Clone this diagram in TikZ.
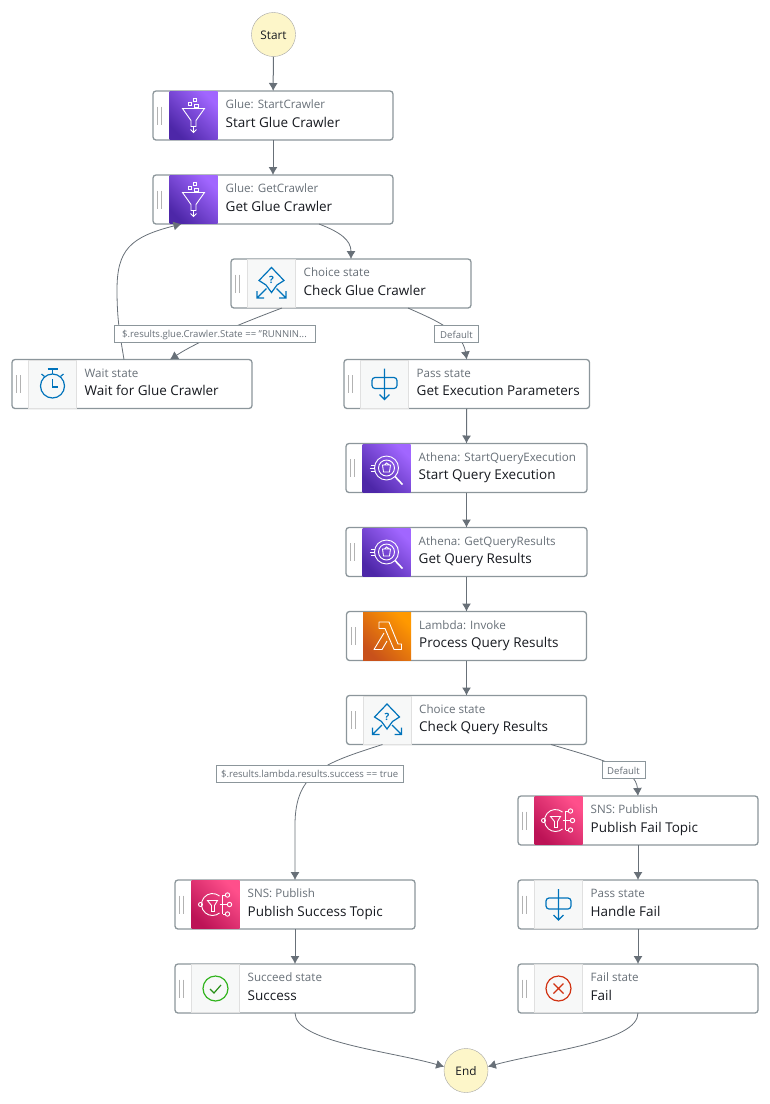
\documentclass[tikz,border=0pt]{standalone}
\usepackage{fontspec}
\setmainfont{Open Sans}
\usetikzlibrary{arrows.meta}
\definecolor{colorline}{RGB}{104,112,120}
\definecolor{colorbox}{RGB}{140,150,155}
\definecolor{colorcream}{RGB}{253,246,201}
\definecolor{colorink}{RGB}{22,25,31}
\definecolor{colorblue}{RGB}{0,115,187}
\definecolor{colortile}{RGB}{247,248,248}
\definecolor{colorgreen}{RGB}{50,180,30}
\definecolor{colorred}{RGB}{209,50,18}
\definecolor{colorpurpleA}{RGB}{77,39,168}
\definecolor{colorpurpleB}{RGB}{161,102,255}
\definecolor{colororangeA}{RGB}{200,81,27}
\definecolor{colororangeB}{RGB}{255,153,0}
\definecolor{colorpinkA}{RGB}{188,19,86}
\definecolor{colorpinkB}{RGB}{255,79,139}
\tikzset{
  Terminal/.style = {circle, draw=black!35, fill=colorcream, minimum size=44pt,
                     inner sep=0pt, text height=9pt, text depth=0pt,
                     font=\fontsize{11.8}{13}\selectfont, text=colorink},
  StateBox/.style = {draw=colorbox, line width=1.3pt, rounded corners=3pt, fill=white,
                     anchor=north west, minimum height=49pt, inner sep=0pt, outer sep=0pt},
  Tile/.style     = {minimum width=48pt, minimum height=48pt, inner sep=0pt, outer sep=0pt, anchor=west},
  TileLight/.style= {Tile, fill=colortile, draw=black!12, line width=.7pt},
  TileGlue/.style = {Tile, left color=colorpurpleA, right color=colorpurpleB, shading angle=135},
  TileLambda/.style = {Tile, left color=colororangeA, right color=colororangeB, shading angle=135},
  TileSns/.style  = {Tile, left color=colorpinkA, right color=colorpinkB, shading angle=135},
  SubText/.style  = {anchor=base west, inner sep=0pt, text=colorline, font=\fontsize{11.6}{13}\selectfont},
  TitleText/.style= {anchor=base west, inner sep=0pt, text=colorink, font=\fontsize{13.5}{15}\selectfont},
  EdgeText/.style = {draw=colorbox, fill=white, line width=.8pt, inner sep=0pt, minimum height=17pt,
                     text height=9pt, text depth=1pt,
                     text=colorline, font=\fontsize{9.55}{11}\selectfont},
  Edge/.style     = {draw=colorline, line width=1pt, -{Latex[length=8pt,width=9pt]}},
  Curve/.style    = {draw=colorline, line width=.8pt, -{Latex[length=8pt,width=9pt]}},
  IconW/.style    = {draw=white, line width=.9pt, fill=none},
  IconB/.style    = {draw=colorblue, line width=1.2pt, fill=none},
}

% icones, relativos ao centro do tile
\newcommand{\IconGlue}{
  \draw[IconW] (-11,-7) -- (11,-7) -- (2.5,5) -- (2.5,11) -- (-2.5,11) -- (-2.5,5) -- cycle;
  \draw[IconW] (-3.5,-11.5) +(-1.7,-1.7) rectangle +(1.7,1.7);
  \draw[IconW] (1.5,-15.5) +(-1.7,-1.7) rectangle +(1.7,1.7);
  \draw[IconW] (3,-9.5) +(-1.7,-1.7) rectangle +(1.7,1.7);
  \draw[IconW] (0,11) -- (0,17) (-3,14) -- (0,17) -- (3,14);
}
\newcommand{\IconChoice}{
  \draw[IconB] (-5.5,1.5) -- (-12.5,-3) -- (0,-16) -- (12.5,-3) -- (5.5,1.5) (-5.5,1.5) -- (0,9) -- (5.5,1.5);
  \draw[IconB] (-5,5) -- (-14.5,14.5) (-14.5,7.5) -- (-14.5,14.5) -- (-7.5,14.5);
  \draw[IconB] (5,5) -- (14.5,14.5) (14.5,7.5) -- (14.5,14.5) -- (7.5,14.5);
  \node[inner sep=0pt, text=colorblue, font=\fontsize{10}{10}\bfseries\selectfont] at (0,-3.5) {?};
}
\newcommand{\IconWait}{
  \draw[IconB] (0,2) circle[radius=12];
  \draw[IconB] (0,-15) -- (0,-10) (-5,-15) -- (5,-15);
  \draw[IconB] (-11,-10) -- (-8,-7.5) (11,-10) -- (8,-7.5);
  \draw[IconB] (0,-5) -- (0,3) -- (5,3);
}
\newcommand{\IconPass}{
  \draw[IconB, rounded corners=3pt] (-12.5,-6.5) rectangle (12.5,4.5);
  \draw[IconB] (0,-15.5) -- (0,15.5) (-5,10.5) -- (0,15.5) -- (5,10.5);
}
\newcommand{\IconAthena}{
  \draw[IconW] (0,0) circle[radius=12];
  \draw[IconW] (0,0) circle[radius=8];
  \draw[IconW] (-4,-3) -- (4,-3) -- (3,4) -- (-3,4) -- cycle (-2,-3) -- (0,-5) -- (3,-3);
  \draw[IconW, line width=1.6pt] (8.5,8.5) -- (16,16.5);
  \draw[IconW] (-16,-3) -- (-12,-3) (-17,0) -- (-12,0) (-16,3) -- (-12,3);
}
\newcommand{\IconLambda}{
  \draw[IconW, line join=round] (-8,-14) -- (2,-14) -- (11,8) -- (14.5,8) -- (14.5,13.5) -- (7,13.5)
    -- (-2,-7.5) -- (-8,-7.5) -- cycle;
  \draw[IconW, line join=round] (-3,-3) -- (-13,13.5) -- (-5,13.5) -- (0,5);
}
\newcommand{\IconSns}{
  \draw[IconW] (4.07,-8.43) arc[start angle=-50, end angle=-310, radius=11];
  \draw[IconW] (-8,-4) -- (2,-4) -- (-1,1) -- (-1,7) -- (-4,7) -- (-4,1) -- cycle;
  \draw[IconW] (-15,0) circle[radius=2];
  \draw[IconW] (4,0) -- (12,0) (7,-9.5) -- (7,9.5) (7,-9.5) -- (10,-9.5) (7,9.5) -- (10,9.5);
  \draw[IconW] (12,-9.5) circle[radius=2.2];
  \draw[IconW] (14,0) circle[radius=2.2];
  \draw[IconW] (12,9.5) circle[radius=2.2];
}
\newcommand{\IconSuccess}{
  \draw[colorgreen, line width=1.2pt] (0,0) circle[radius=12.5];
  \draw[colorgreen!80!black, line width=1.2pt] (-5.5,0.5) -- (-1.5,4.5) -- (5.5,-3.5);
}
\newcommand{\IconFail}{
  \draw[colorred, line width=1.2pt] (0,0) circle[radius=12.5];
  \draw[colorred, line width=1.2pt] (-5,-5) -- (5,5) (-5,5) -- (5,-5);
}

% nome, x, y, largura, estilo do tile, icone, subtitulo, titulo
\newcommand{\StateNode}[8]{
  \node[StateBox, minimum width=#4 pt] (#1) at (#2,#3) {};
  \draw[black!30, line width=.8pt] ([shift={(4.5,-9)}]#1.west) -- ([shift={(4.5,9)}]#1.west)
                                   ([shift={(8.5,-9)}]#1.west) -- ([shift={(8.5,9)}]#1.west);
  \node[#5] (#1-tile) at ([xshift=16.5pt]#1.west) {};
  \begin{scope}[shift={(#1-tile.center)}] #6 \end{scope}
  \node[SubText] (#1-sub) at ([shift={(72.5,-7)}]#1.west) {#7};
  \node[TitleText] (#1-title) at ([shift={(72.5,11.7)}]#1.west) {#8};
}

\begin{document}
\begin{tikzpicture}[x=1pt, y=-1pt]
\useasboundingbox (0,0) rectangle (770,1104);

% terminais
\node[Terminal] (start) at (273.5,34.5) {Start};
\node[Terminal] (end) at (466,1070.5) {End};

% glue
\StateNode{startcrawler}{153}{91}{240}{TileGlue}{\IconGlue}{Glue: StartCrawler}{Start Glue Crawler}
\StateNode{getcrawler}{153}{175}{240}{TileGlue}{\IconGlue}{Glue: GetCrawler}{Get Glue Crawler}
\StateNode{checkcrawler}{231}{259}{240}{TileLight}{\IconChoice}{Choice state}{Check Glue Crawler}
\StateNode{waitcrawler}{12}{359.5}{240}{TileLight}{\IconWait}{Wait state}{Wait for Glue Crawler}

% athena
\StateNode{getparams}{344}{359.5}{245.5}{TileLight}{\IconPass}{Pass state}{Get Execution Parameters}
\StateNode{startquery}{346}{443.5}{241}{TileGlue}{\IconAthena}{Athena: StartQueryExecution}{Start Query Execution}
\StateNode{getquery}{346}{527.5}{241}{TileGlue}{\IconAthena}{Athena: GetQueryResults}{Get Query Results}
\StateNode{processquery}{346.5}{611.5}{240}{TileLambda}{\IconLambda}{Lambda: Invoke}{Process Query Results}
\StateNode{checkquery}{346.5}{695.5}{240}{TileLight}{\IconChoice}{Choice state}{Check Query Results}

% saidas
\StateNode{pubsuccess}{175}{880}{240}{TileSns}{\IconSns}{SNS: Publish}{Publish Success Topic}
\StateNode{success}{175}{964}{240}{TileLight}{\IconSuccess}{Succeed state}{Success}
\StateNode{pubfail}{518}{796}{240}{TileSns}{\IconSns}{SNS: Publish}{Publish Fail Topic}
\StateNode{handlefail}{518}{880}{240}{TileLight}{\IconPass}{Pass state}{Handle Fail}
\StateNode{fail}{518}{964}{240}{TileLight}{\IconFail}{Fail state}{Fail}

% arestas retas
\draw[Edge] (start) -- (startcrawler);
\draw[Edge] (startcrawler) -- (getcrawler);
\draw[Edge] (getparams.south) -- (startquery.north);
\draw[Edge] (startquery) -- (getquery);
\draw[Edge] (getquery) -- (processquery);
\draw[Edge] (processquery) -- (checkquery);
\draw[Edge] (pubsuccess) -- (success);
\draw[Edge] (pubfail) -- (handlefail);
\draw[Edge] (handlefail) -- (fail);

% arestas curvas
\draw[Curve] ([xshift=46pt]getcrawler.south) .. controls (340,232) and (351,240) .. (checkcrawler.north);
\draw[Curve] ([xshift=-69pt]checkcrawler.south) .. controls (245,322) and (200,340) .. ([xshift=38pt]waitcrawler.north);
\draw[Curve] ([xshift=-8pt]waitcrawler.north) .. controls (120,335) and (117,320) .. (117,290)
  .. controls (117,250) and (130,237) .. ([xshift=-91.5pt]getcrawler.south);
\draw[Curve] ([xshift=57pt]checkcrawler.south) .. controls (430,318) and (462,330) .. (getparams.north);
\draw[Curve] ([xshift=-84pt]checkquery.south) .. controls (325,763) and (295,772) .. (295,825) -- (pubsuccess.north);
\draw[Curve] ([xshift=84.5pt]checkquery.south) .. controls (600,759) and (636,768) .. (pubfail.north);
\draw[Curve] (success.south) .. controls (295,1042) and (390,1051) .. (end.170);
\draw[Curve] (fail.south) .. controls (638,1042) and (545,1051) .. (end.10);

% rotulos
\node[EdgeText, minimum width=201pt] (runninglabel) at (214.5,333.5) {\$.results.glue.Crawler.State == "RUNNIN...};
\node[EdgeText, minimum width=44pt] (defaultglue) at (456.5,334) {Default};
\node[EdgeText, minimum width=187.5pt] (successlabel) at (309.7,773.5) {\$.results.lambda.results.success == true};
\node[EdgeText, minimum width=43pt] (defaultquery) at (623.5,770) {Default};
\end{tikzpicture}
\end{document}
